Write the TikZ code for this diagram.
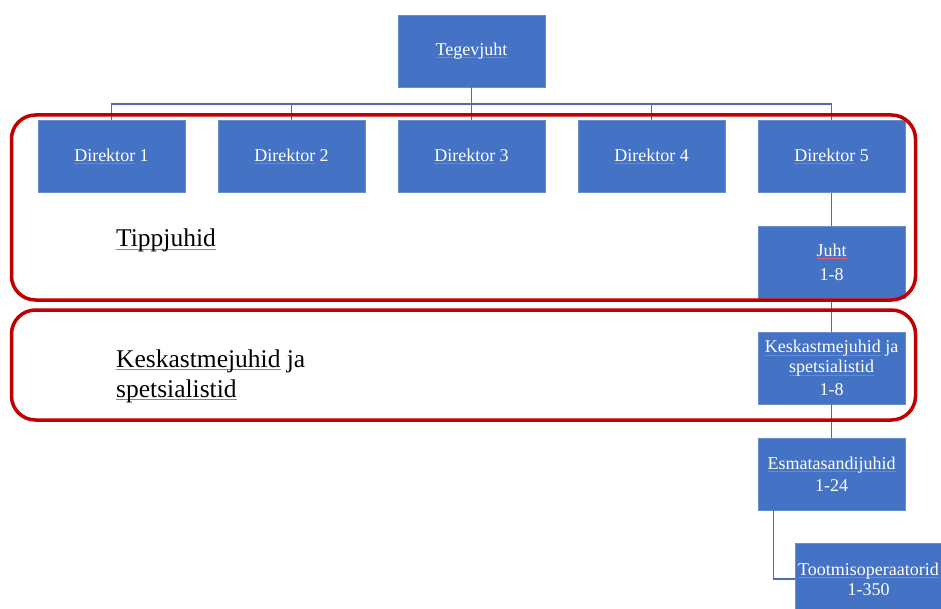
\documentclass[tikz,border=0pt]{standalone}
\usepackage{fontspec}
\setmainfont{Liberation Serif}
\newfontfamily\timesf{Liberation Serif}
\definecolor{boxblue}{HTML}{4472C4}
\definecolor{linkblue}{HTML}{4A6DB3}
\definecolor{frred}{HTML}{C00000}
\definecolor{sqred}{HTML}{F05A68}
\newsavebox\sqbox
\newcommand\sqw[1]{\sbox\sqbox{#1}\rlap{\textcolor{sqred}{\rule[-3pt]{\wd\sqbox}{0.8pt}}}\usebox\sqbox}
\begin{document}
\begin{tikzpicture}[x=1pt,y=-1pt,
 orgbox/.style={draw=boxblue!80!white, line width=0.6pt, fill=boxblue, text=white,
   minimum width=147pt, minimum height=72pt, inner sep=0pt, align=center,
   font=\timesf\fontsize{18}{20}\selectfont},
 link/.style={draw=linkblue, line width=1.3pt},
 frame/.style={draw=frred, line width=3.5pt, rounded corners=24pt},
 lbl/.style={anchor=base west, align=left, font=\timesf\fontsize{25.5}{30}\selectfont, inner sep=0pt}]
\useasboundingbox (0,0) rectangle (941,609);
\clip (0,0) rectangle (941,609);
\fill[white] (0,0) rectangle (941,609);

\node[orgbox] (teg) at (471.5,51) {\sqw{Tegevjuht}};
\node[orgbox] (d1) at (111.5,156.5) {\sqw{Direktor} 1};
\node[orgbox] (d2) at (291.5,156.5) {\sqw{Direktor} 2};
\node[orgbox] (d3) at (471.5,156.5) {\sqw{Direktor} 3};
\node[orgbox] (d4) at (651.5,156.5) {\sqw{Direktor} 4};
\node[orgbox] (d5) at (831.5,156.5) {\sqw{Direktor} 5};
\node[orgbox] (juht) at (831.5,262) {\sqw{Juht}\\[4pt]1-8};
\node[orgbox] (kesk) at (831.5,368) {\sqw{Keskastmejuhid} ja\\\sqw{spetsialistid}\\[3pt]1-8};
\node[orgbox] (esm) at (831.5,474) {\sqw{Esmatasandijuhid}\\[2pt]1-24};
\node[orgbox] (too) at (868.5,579) {\sqw{Tootmisoperaatorid}\\1-350};

\coordinate (bus) at (471.5,104);
\draw[link] (teg.south) -- (d3.north);
\foreach \d in {d1,d2,d4,d5} \draw[link] (\d.north) |- (bus);
\draw[link] (d5.south) -- (juht.north);
\draw[link] (juht.south) -- (kesk.north);
\draw[link] (kesk.south) -- (esm.north);
\draw[link] ([xshift=-58pt]esm.south) |- (too.west);

\draw[frame] (11.5,115) rectangle (915.5,300);
\draw[frame] (11.5,310) rectangle (915.5,420);

\node[lbl] (tipp) at (116,247) {\sqw{Tippjuhid}};
\node[lbl] (keskl) at (116,397) {\sqw{Keskastmejuhid} ja\\\sqw{spetsialistid}};
\end{tikzpicture}
\end{document}
